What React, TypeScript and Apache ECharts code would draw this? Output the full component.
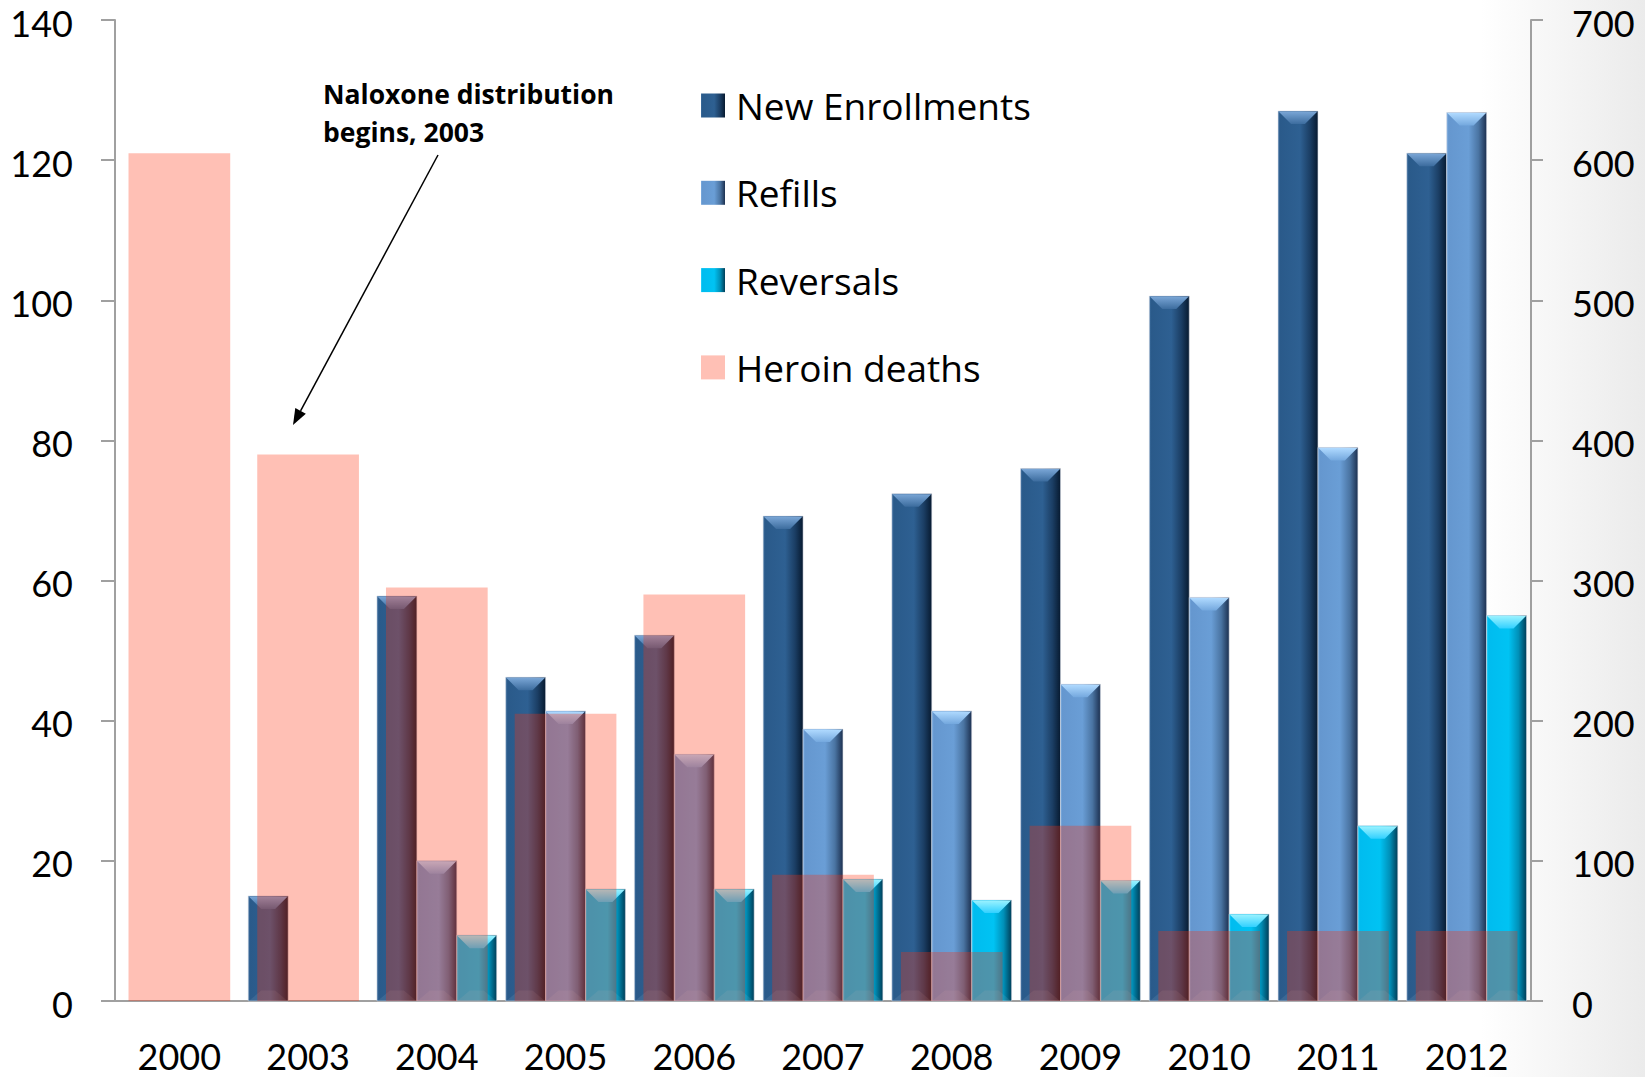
import React, { useEffect, useRef } from 'react';
import * as echarts from 'echarts';

const categories = ['2000', '2003', '2004', '2005', '2006', '2007', '2008', '2009', '2010', '2011', '2012'];
const newEnrollments = [0, 75, 289, 231, 261, 346, 362, 380, 503, 635, 605];
const refills = [0, 0, 100, 207, 176, 194, 207, 226, 288, 395, 634];
const reversals = [0, 0, 47, 80, 80, 87, 72, 86, 62, 125, 275];
const heroinDeaths = [121, 78, 59, 41, 58, 18, 7, 25, 10, 10, 10];

const FONT = 'Lato';
const LEGEND_FONT = 'Open Sans';

type Pal = { body: [number, string][]; top: [string, string]; legend: string };

const palettes: Pal[] = [
  {
    body: [[0, '#3f6f9f'], [0.05, '#2a5a8a'], [0.55, '#2e6092'], [0.8, '#1b3e64'], [1, '#071a30']],
    top: ['#7aa6d6', '#3c6c9e'],
    legend: '#2a5a8a',
  },
  {
    body: [[0, '#80b0e2'], [0.05, '#6597cf'], [0.55, '#6a9ed6'], [0.8, '#4a74a2'], [1, '#1c3050']],
    top: ['#b0daff', '#74a8de'],
    legend: '#6597cf',
  },
  {
    body: [[0, '#30d4ff'], [0.05, '#00bcef'], [0.55, '#00c3f3'], [0.8, '#0090b8'], [1, '#003e58']],
    top: ['#9af2ff', '#30d0ff'],
    legend: '#00bcef',
  },
];

const grad = (stops: [number, string][]) =>
  new echarts.graphic.LinearGradient(0, 0, 1, 0, stops.map(([offset, color]) => ({ offset, color })));

const makeRender = (slot: number, pal: Pal) => (params: any, api: any) => {
  const idx = api.value(0);
  const val = api.value(1);
  if (!val) return null;
  const top = api.coord([idx, val]);
  const base = api.coord([idx, 0]);
  const catW = api.size([1, 0])[0];
  const barW = (catW * 0.93) / 3;
  const x0 = top[0] - 1.5 * barW + slot * barW;
  const yT = top[1];
  const yB = base[1];
  const h = yB - yT;
  const b = Math.min(13, h / 2, barW / 2);
  return {
    type: 'group',
    children: [
      {
        type: 'rect',
        shape: { x: x0, y: yT, width: barW, height: h },
        style: { fill: grad(pal.body), stroke: 'rgba(210,215,225,0.55)', lineWidth: 1 },
      },
      {
        type: 'polygon',
        shape: { points: [[x0 + 0.5, yT + 0.5], [x0 + barW - 0.5, yT + 0.5], [x0 + barW - b, yT + b], [x0 + b, yT + b]] },
        style: { fill: new echarts.graphic.LinearGradient(0, 0, 0, 1, [{ offset: 0, color: pal.top[0] }, { offset: 1, color: pal.top[1] }]) },
      },
      {
        type: 'polygon',
        shape: { points: [[x0 + 0.5, yB], [x0 + barW - 0.5, yB], [x0 + barW - b, yB - b * 0.8], [x0 + b, yB - b * 0.8]] },
        style: { fill: 'rgba(255,255,255,0.08)' },
      },
    ],
  };
};

const seriesNames = ['New Enrollments', 'Refills', 'Reversals'];
const seriesValues = [newEnrollments, refills, reversals];

export default function App() {
  const ref = useRef<HTMLDivElement>(null);
  useEffect(() => {
    document.body.style.margin = '0';
    const chart = echarts.init(ref.current!, null, { renderer: 'svg' });

    const axisLineStyle = { color: '#a0a0a0', width: 2 };
    const labelStyle = { fontFamily: FONT, fontSize: 36, color: '#000', lineHeight: 30 };
    const yLabelStyle = { fontFamily: FONT, fontSize: 36, color: '#000', lineHeight: 5, verticalAlign: 'top' };

    // arrow geometry
    const sx = 438, sy = 155, ex = 293, ey = 425;
    const len = Math.hypot(ex - sx, ey - sy);
    const ux = (ex - sx) / len, uy = (ey - sy) / len;
    const bx = ex - 16 * ux, by = ey - 16 * uy;
    const nx = -uy, ny = ux;

    const option: any = {
      animation: false,
      grid: { left: 115, right: 114, top: 20, bottom: 76, containLabel: false },
      legend: {
        orient: 'vertical',
        left: 701,
        top: 87,
        itemWidth: 24,
        itemHeight: 24,
        itemGap: 50.3,
        padding: 0,
        icon: 'rect',
        textStyle: { fontFamily: LEGEND_FONT, fontSize: 37, color: '#000', lineHeight: 36, padding: [0, 0, 0, 6] },
        data: ['New Enrollments', 'Refills', 'Reversals', 'Heroin deaths'],
      },
      xAxis: [
        {
          type: 'category',
          data: categories,
          axisLine: { lineStyle: axisLineStyle },
          axisTick: { length: 14, lineStyle: axisLineStyle },
          axisLabel: { ...labelStyle, margin: 40 },
        },
        { type: 'category', data: categories, show: false },
      ],
      yAxis: [
        {
          type: 'value',
          min: 0,
          max: 140,
          interval: 20,
          splitLine: { show: false },
          axisLine: { show: true, lineStyle: axisLineStyle },
          axisTick: { show: true, length: 14, lineStyle: axisLineStyle },
          axisLabel: { ...yLabelStyle, margin: 42 },
        },
        {
          type: 'value',
          min: 0,
          max: 700,
          interval: 100,
          position: 'right',
          splitLine: { show: false },
          axisLine: { show: true, lineStyle: axisLineStyle },
          axisTick: { show: true, length: 12, lineStyle: axisLineStyle },
          axisLabel: { ...yLabelStyle, margin: 41 },
        },
      ],
      series: [
        ...seriesNames.map((name, s) => ({
          type: 'custom',
          name,
          xAxisIndex: 0,
          yAxisIndex: 1,
          itemStyle: { color: grad(palettes[s].body) },
          encode: { x: 0, y: 1 },
          data: categories.map((_, i) => [i, seriesValues[s][i]]),
          renderItem: makeRender(s, palettes[s]),
        })),
        {
          type: 'bar',
          name: 'Heroin deaths',
          xAxisIndex: 1,
          yAxisIndex: 0,
          barWidth: '79%',
          itemStyle: { color: 'rgba(255,45,10,0.3)' },
          data: heroinDeaths,
        },
      ],
      graphic: [
        {
          type: 'text',
          x: 323,
          y: 75,
          style: {
            text: 'Naloxone distribution\nbegins, 2003',
            font: `bold 26.5px "${LEGEND_FONT}"`,
            fill: '#000',
            lineHeight: 38,
            verticalAlign: 'top',
          },
        },
        {
          type: 'line',
          shape: { x1: sx, y1: sy, x2: bx, y2: by },
          style: { stroke: '#000', lineWidth: 1.5 },
        },
        {
          type: 'polygon',
          shape: { points: [[ex, ey], [bx + 6 * nx, by + 6 * ny], [bx - 6 * nx, by - 6 * ny]] },
          style: { fill: '#000' },
        },
      ],
    };
    chart.setOption(option);
    return () => chart.dispose();
  }, []);
  return (
    <div
      ref={ref}
      style={{
        width: 1645,
        height: 1077,
        background: 'linear-gradient(to right, #ffffff 0%, #ffffff 90%, #ebebeb 100%)',
      }}
    />
  );
}
